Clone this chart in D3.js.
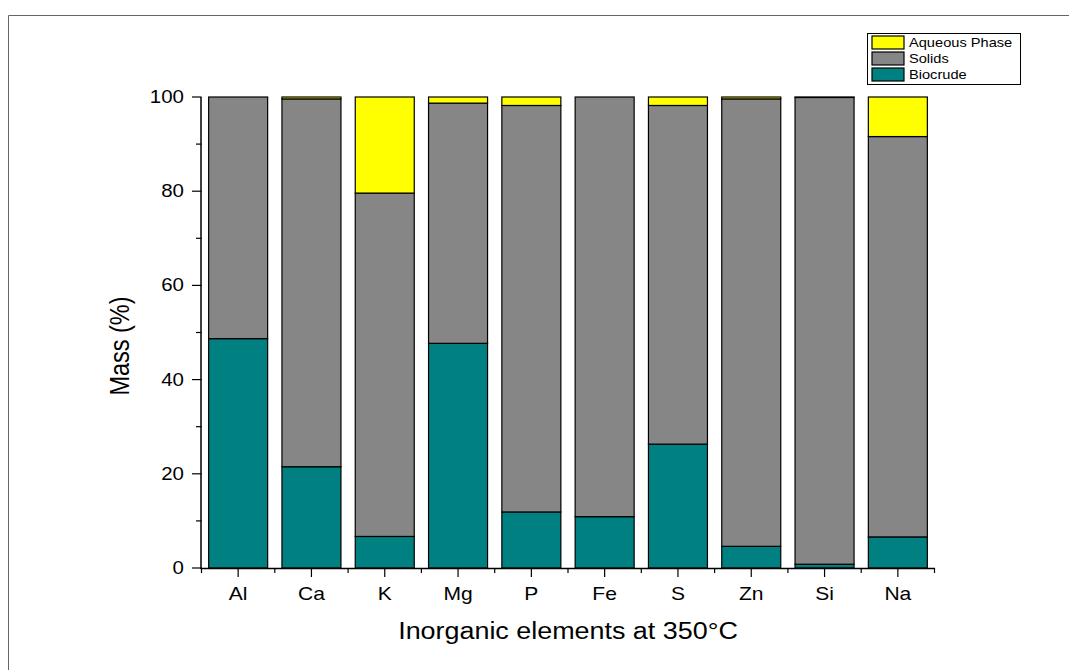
<!DOCTYPE html>
<html><head><meta charset="utf-8">
<script src="https://cdn.jsdelivr.net/npm/d3@7"></script>
<style>body{margin:0;background:#fff;}svg{display:block;font-family:Arial,"Liberation Sans",sans-serif;}</style>
</head><body>
<script>
const categories = ["Al","Ca","K","Mg","P","Fe","S","Zn","Si","Na"];
const biocrude = [48.7, 21.5, 6.7, 47.7, 11.9, 10.9, 26.3, 4.6, 0.8, 6.6];
const solids   = [51.3, 78.1, 72.9, 51.0, 86.3, 89.1, 71.9, 95.0, 99.1, 85.0];
const aqueous  = [0.0, 0.4, 20.4, 1.3, 1.8, 0.0, 1.8, 0.4, 0.1, 8.4];
const seriesNames = ["Biocrude","Solids","Aqueous Phase"];
const seriesColors = ["#008080","#868686","#ffff00"];
const yTicks = [0,20,40,60,80,100];

const W=1069,H=670, SX=1.17;
const svg=d3.select("body").append("svg").attr("width",W).attr("height",H);
svg.append("path").attr("d","M8.5,670 L8.5,15.5 L1069,15.5").attr("fill","none").attr("stroke","#666").attr("stroke-width",1);

function txt(parent,x0,y0,s,size,anchor,rot){
  const t=parent.append("text").attr("font-size",size).attr("text-anchor",anchor||"start").text(s);
  if(rot) t.attr("transform",`translate(${x0},${y0}) scale(${SX},1) rotate(-90)`);
  else t.attr("transform",`translate(${x0},${y0}) scale(${SX},1)`);
  return t;
}

const X0=201.5, X1=934.5;
const x=d3.scaleBand().domain(categories).range([X0,X1]).paddingInner(0.195).paddingOuter(0.0975);
const y=d3.scaleLinear().domain([0,100]).range([568,97]);

const rows=categories.map((c,i)=>({cat:c,Biocrude:biocrude[i],Solids:solids[i],"Aqueous Phase":aqueous[i]}));
const stack=d3.stack().keys(seriesNames)(rows);

const g=svg.append("g");
stack.forEach((s,si)=>{
  g.selectAll(null).data(s).enter().append("rect")
    .attr("x",d=>x(d.data.cat)).attr("width",x.bandwidth())
    .attr("y",d=>y(d[1])).attr("height",d=>Math.max(0,y(d[0])-y(d[1])))
    .attr("fill",seriesColors[si]).attr("stroke","#000").attr("stroke-width",1.2);
});

const xa=svg.append("g");
xa.append("line").attr("x1",X0-1).attr("x2",X1+0.5).attr("y1",568.5).attr("y2",568.5).attr("stroke","#000").attr("stroke-width",1.5);
const step=(X1-X0)/categories.length;
categories.forEach((c,i)=>{
  const cx=x(c)+x.bandwidth()/2;
  xa.append("line").attr("x1",cx).attr("x2",cx).attr("y1",568).attr("y2",577).attr("stroke","#000").attr("stroke-width",1.2);
  txt(xa,cx,600,c,18,"middle");
});
for(let i=0;i<=categories.length;i++){
  const bx=X0+i*step;
  xa.append("line").attr("x1",bx).attr("x2",bx).attr("y1",568).attr("y2",573).attr("stroke","#000").attr("stroke-width",1.2);
}
const ya=svg.append("g");
ya.append("line").attr("x1",X0-0.5).attr("x2",X0-0.5).attr("y1",97).attr("y2",569).attr("stroke","#000").attr("stroke-width",1.5);
yTicks.forEach(t=>{
  ya.append("line").attr("x1",192).attr("x2",X0).attr("y1",y(t)).attr("y2",y(t)).attr("stroke","#000").attr("stroke-width",1.2);
  txt(ya,184,y(t)+6,String(t),17.5,"end");
});
for(let t=10;t<100;t+=20){
  ya.append("line").attr("x1",196).attr("x2",X0).attr("y1",y(t)).attr("y2",y(t)).attr("stroke","#000").attr("stroke-width",1.2);
}
txt(svg,129,346,"Mass (%)",23.5,"middle",true);
txt(svg,568,639,"Inorganic elements at 350°C",23,"middle");

const lg=svg.append("g");
lg.append("rect").attr("x",867.5).attr("y",33.5).attr("width",153).attr("height",51).attr("fill","#fff").attr("stroke","#000").attr("stroke-width",1);
[2,1,0].forEach((si,k)=>{
  const yy=36+k*16;
  lg.append("rect").attr("x",872).attr("y",yy).attr("width",32).attr("height",13).attr("fill",seriesColors[si]).attr("stroke","#000").attr("stroke-width",1.2);
  txt(lg,909,yy+11,seriesNames[si],12.5,"start");
});
</script>
</body></html>
